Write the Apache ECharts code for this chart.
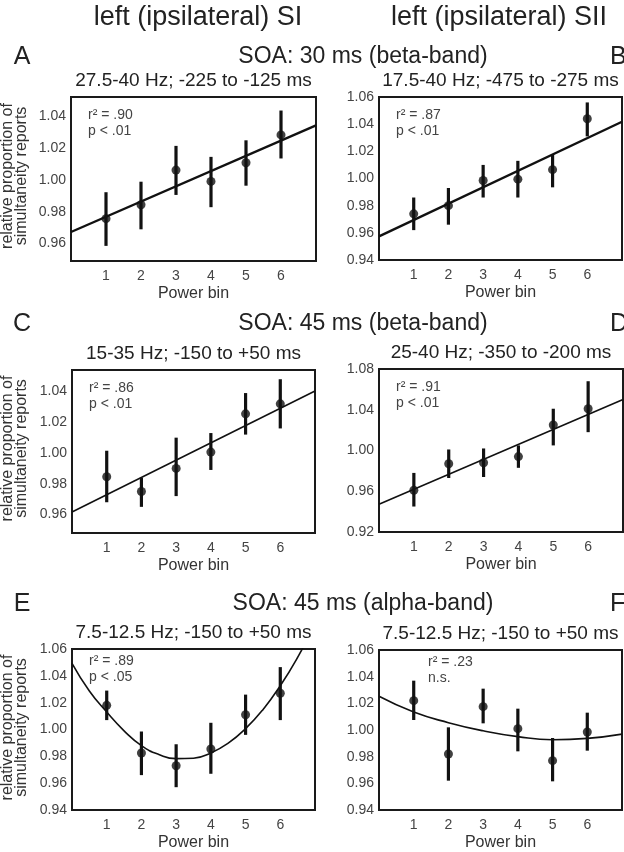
<!DOCTYPE html>
<html>
<head>
<meta charset="utf-8">
<script src="https://cdn.jsdelivr.net/npm/echarts@6/dist/echarts.min.js"></script>
<style>
html,body{margin:0;padding:0;background:#fff;}
#chart{width:624px;height:852px;}
</style>
</head>
<body>
<div id="chart"></div>
<script>
// ---- data ----
const bins = [1, 2, 3, 4, 5, 6];
const xTickLabels = [1, 2, 3, 4, 5, 6];

const colTitles = ['left (ipsilateral) SI', 'left (ipsilateral) SII'];
const rowTitles = ['SOA: 30 ms (beta-band)', 'SOA: 45 ms (beta-band)', 'SOA: 45 ms (alpha-band)'];
const panelLetters = ['A', 'B', 'C', 'D', 'E', 'F'];
const panelSubtitles = ['27.5-40 Hz; -225 to -125 ms', '17.5-40 Hz; -475 to -275 ms',
  '15-35 Hz; -150 to +50 ms', '25-40 Hz; -350 to -200 ms',
  '7.5-12.5 Hz; -150 to +50 ms', '7.5-12.5 Hz; -150 to +50 ms'];
const statLine1 = ['r\u00B2 = .90', 'r\u00B2 = .87', 'r\u00B2 = .86', 'r\u00B2 = .91', 'r\u00B2 = .89', 'r\u00B2 = .23'];
const statLine2 = ['p < .01', 'p < .01', 'p < .01', 'p < .01', 'p < .05', 'n.s.'];
const yAxisName = 'relative proportion of\nsimultaneity reports';
const xAxisName = 'Power bin';

const yTicksA = [0.96, 0.98, 1.00, 1.02, 1.04];
const yTicksB = [0.94, 0.96, 0.98, 1.00, 1.02, 1.04, 1.06];
const yTicksC = [0.96, 0.98, 1.00, 1.02, 1.04];
const yTicksD = [0.92, 0.96, 1.00, 1.04, 1.08];
const yTicksE = [0.94, 0.96, 0.98, 1.00, 1.02, 1.04, 1.06];
const yTicksF = [0.94, 0.96, 0.98, 1.00, 1.02, 1.04, 1.06];

const yRangeA = [0.949, 1.052];
const yRangeB = [0.94, 1.06];
const yRangeC = [0.948, 1.054];
const yRangeD = [0.92, 1.08];
const yRangeE = [0.94, 1.06];
const yRangeF = [0.94, 1.06];

const meanA = [0.9756, 0.9843, 1.0061, 0.9990, 1.0107, 1.0282];
const lowA  = [0.9585, 0.9689, 0.9905, 0.9828, 0.9963, 1.0134];
const highA = [0.9922, 0.9988, 1.0213, 1.0144, 1.0248, 1.0435];
const fitXA = [0, 7];
const fitYA = [0.9672, 1.0342];

const meanB = [0.9740, 0.9800, 0.9985, 0.9995, 1.0065, 1.0440];
const lowB  = [0.9620, 0.9660, 0.9860, 0.9860, 0.9935, 1.0310];
const highB = [0.9860, 0.9930, 1.0100, 1.0130, 1.0180, 1.0560];
const fitXB = [0, 7];
const fitYB = [0.9574, 1.0418];

const meanC = [0.9846, 0.9750, 0.9900, 1.0006, 1.0255, 1.0320];
const lowC  = [0.9680, 0.9650, 0.9720, 0.9890, 1.0120, 1.0160];
const highC = [1.0015, 0.9840, 1.0100, 1.0130, 1.0390, 1.0480];
const fitXC = [0, 7];
const fitYC = [0.9617, 1.0404];

const meanD = [0.9610, 0.9870, 0.9880, 0.9940, 1.0250, 1.0410];
const lowD  = [0.9450, 0.9730, 0.9740, 0.9830, 1.0050, 1.0180];
const highD = [0.9780, 1.0010, 1.0020, 1.0050, 1.0410, 1.0680];
const fitXD = [0, 7];
const fitYD = [0.9472, 1.0501];

const meanE = [1.0180, 0.9825, 0.9730, 0.9855, 1.0110, 1.0270];
const lowE  = [1.0070, 0.9660, 0.9570, 0.9670, 0.9960, 1.0070];
const highE = [1.0290, 0.9985, 0.9890, 1.0050, 1.0260, 1.0465];
const fitXE = [0, 0.5, 1, 1.5, 2, 2.5, 3, 3.5, 4, 4.5, 5, 5.5, 6, 6.5, 7];
const fitYE = [1.0493, 1.0287, 1.0130, 0.9990, 0.9880, 0.9814, 0.9783, 0.9786, 0.9825, 0.9898, 1.0006, 1.0148, 1.0326, 1.0538, 1.0785];

const meanF = [1.0220, 0.9820, 1.0175, 1.0010, 0.9770, 0.9985];
const lowF  = [1.0075, 0.9620, 1.0050, 0.9840, 0.9615, 0.9845];
const highF = [1.0370, 1.0020, 1.0310, 1.0160, 0.9940, 1.0130];
const fitXF = [0, 1, 2, 3, 4, 5, 6, 7];
const fitYF = [1.0253, 1.0135, 1.0055, 0.9994, 0.9950, 0.9927, 0.9937, 0.9969];

// ---- layout ----
const panels = [
  {rect: [71, 97, 245, 164], yr: yRangeA, yt: yTicksA, m: meanA, lo: lowA, hi: highA, fx: fitXA, fy: fitYA, lw: 2.4, smooth: false},
  {rect: [379, 97, 243, 163], yr: yRangeB, yt: yTicksB, m: meanB, lo: lowB, hi: highB, fx: fitXB, fy: fitYB, lw: 2.4, smooth: false},
  {rect: [72, 370, 243, 163], yr: yRangeC, yt: yTicksC, m: meanC, lo: lowC, hi: highC, fx: fitXC, fy: fitYC, lw: 1.6, smooth: false},
  {rect: [379, 369, 244, 163], yr: yRangeD, yt: yTicksD, m: meanD, lo: lowD, hi: highD, fx: fitXD, fy: fitYD, lw: 1.6, smooth: false},
  {rect: [72, 649, 243, 163], yr: yRangeE, yt: yTicksE, m: meanE, lo: lowE, hi: highE, fx: fitXE, fy: fitYE, lw: 1.6, smooth: true},
  {rect: [379, 650, 243, 162], yr: yRangeF, yt: yTicksF, m: meanF, lo: lowF, hi: highF, fx: fitXF, fy: fitYF, lw: 1.6, smooth: true}
];

const FONT = '"Liberation Sans", Arial, Helvetica, sans-serif';
const NARROW = '"Liberation Sans Narrow", "Arial Narrow", "Liberation Sans", Arial, sans-serif';
const INK = '#111';

const grid = [], xAxis = [], yAxis = [], series = [], graphic = [];

panels.forEach((p, i) => {
  const [l, t, w, h] = p.rect;
  grid.push({left: l, top: t, width: w, height: h, show: true, borderColor: '#1a1a1a', borderWidth: 2, backgroundColor: 'transparent'});
  xAxis.push({
    type: 'value', gridIndex: i, min: 0, max: 7,
    axisLine: {show: false}, axisTick: {show: false}, splitLine: {show: false},
    axisLabel: {customValues: xTickLabels, margin: 8, fontSize: 14, color: '#444', fontFamily: NARROW},
    name: xAxisName, nameLocation: 'middle', nameGap: 25,
    nameTextStyle: {fontSize: 16, color: '#333', fontFamily: FONT}
  });
  yAxis.push({
    type: 'value', gridIndex: i, min: p.yr[0], max: p.yr[1],
    axisLine: {show: false}, axisTick: {show: false}, splitLine: {show: false},
    axisLabel: {customValues: p.yt, margin: 5, fontSize: 14, color: '#444', fontFamily: NARROW,
      formatter: v => v.toFixed(2)}
  });
  series.push({
    type: 'line', xAxisIndex: i, yAxisIndex: i, showSymbol: false, smooth: p.smooth, clip: true,
    lineStyle: {color: INK, width: p.lw}, silent: true, z: 2,
    data: p.fx.map((x, k) => [x, p.fy[k]])
  });
  series.push({
    type: 'custom', xAxisIndex: i, yAxisIndex: i, z: 3,
    encode: {x: 0, y: [1, 2]},
    data: bins.map((b, k) => [b, p.lo[k], p.hi[k]]),
    renderItem: (params, api) => {
      const x = api.value(0);
      const a = api.coord([x, api.value(1)]);
      const b = api.coord([x, api.value(2)]);
      return {type: 'rect', shape: {x: a[0] - 1.6, y: b[1], width: 3.2, height: a[1] - b[1]}, style: {fill: INK}};
    }
  });
  series.push({
    type: 'scatter', xAxisIndex: i, yAxisIndex: i, z: 4,
    symbol: 'circle', symbolSize: 9, itemStyle: {color: INK},
    data: bins.map((b, k) => [b, p.m[k]])
  });

  // stats text
  const sx = (i === 5) ? l + 49 : l + 17;
  const sy = (i >= 4) ? t + 12 : t + 18;
  graphic.push({type: 'text', x: sx, y: sy, style: {text: statLine1[i], fontSize: 14, fill: '#444', font: '14px ' + FONT, textVerticalAlign: 'middle'}});
  graphic.push({type: 'text', x: sx, y: sy + 16, style: {text: statLine2[i], fontSize: 14, fill: '#444', font: '14px ' + FONT, textVerticalAlign: 'middle'}});
  // subtitle
  graphic.push({type: 'text', x: l + w / 2 + (i % 2 === 0 ? 0 : 0), y: t - 16,
    style: {text: panelSubtitles[i], font: '19px ' + FONT, fill: '#222', textAlign: 'center', textVerticalAlign: 'middle'}});
  // y axis name (left column only)
  if (i % 2 === 0) {
    graphic.push({type: 'text', x: 15, y: t + h / 2 - 3, rotation: Math.PI / 2,
      style: {text: yAxisName, font: '16px ' + FONT, fill: '#333', textAlign: 'center', textVerticalAlign: 'middle', lineHeight: 14}});
  }
});

// column titles
graphic.push({type: 'text', x: 198, y: 18, style: {text: colTitles[0], font: '27px ' + FONT, fill: '#222', textAlign: 'center', textVerticalAlign: 'middle'}});
graphic.push({type: 'text', x: 499, y: 18, style: {text: colTitles[1], font: '27px ' + FONT, fill: '#222', textAlign: 'center', textVerticalAlign: 'middle'}});
// row headers & letters
const rowY = [57, 324, 604];
rowTitles.forEach((txt, r) => {
  graphic.push({type: 'text', x: 363, y: rowY[r], style: {text: txt, font: '23px ' + FONT, fill: '#222', textAlign: 'center', textVerticalAlign: 'middle'}});
  graphic.push({type: 'text', x: 22, y: rowY[r], style: {text: panelLetters[r * 2], font: '25px ' + FONT, fill: '#222', textAlign: 'center', textVerticalAlign: 'middle'}});
  graphic.push({type: 'text', x: 610, y: rowY[r], style: {text: panelLetters[r * 2 + 1], font: '25px ' + FONT, fill: '#222', textAlign: 'left', textVerticalAlign: 'middle'}});
});

const chart = echarts.init(document.getElementById('chart'), null, {renderer: 'canvas'});
chart.setOption({
  animation: false,
  backgroundColor: '#fff',
  grid, xAxis, yAxis, series, graphic
});
</script>
</body>
</html>
